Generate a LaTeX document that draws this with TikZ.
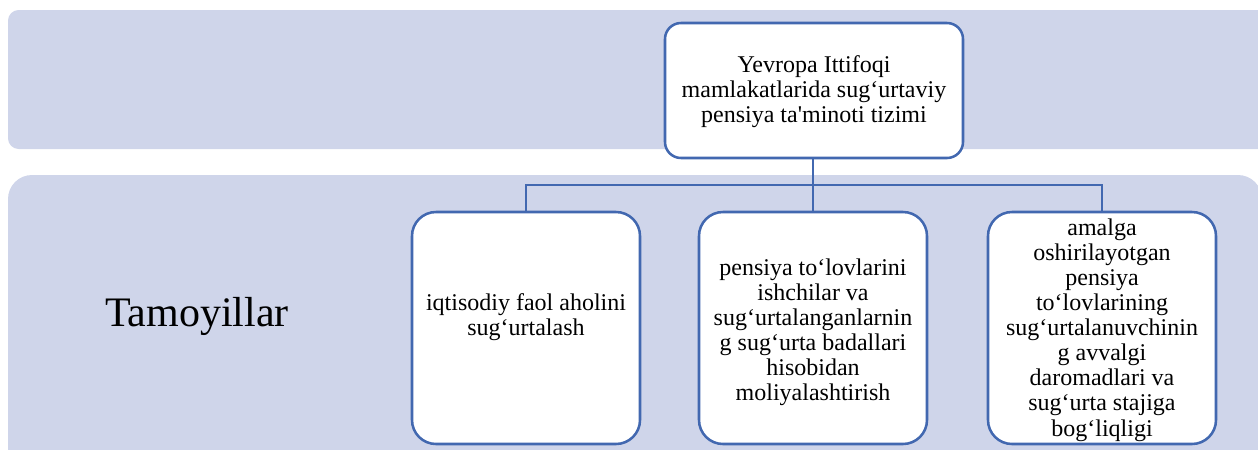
\documentclass[tikz,border=0pt]{standalone}
\usepackage{fontspec}
\setmainfont{Liberation Serif}[Ligatures=TeXOff]
\definecolor{bandfill}{HTML}{CFD5EA}
\definecolor{boxline}{HTML}{4268B0}
\tikzset{
  band/.style={fill=bandfill, draw=none},
  card/.style={draw=boxline, line width=1.9pt, fill=white, rounded corners=18pt},
  conn/.style={draw=boxline, line width=1.9pt},
  txt/.style={align=center, font=\fontsize{18}{18.8}\selectfont, inner sep=0pt},
}
\begin{document}
\begin{tikzpicture}[x=0.75pt,y=-0.75pt]
\useasboundingbox (0,0) rectangle (1258,450);
\clip (0,0) rectangle (1258,450);
% bands
\fill[band, rounded corners=8pt] (8,10) rectangle (1290,149);
\fill[band, rounded corners=18pt] (8,175) rectangle (1262,480);
\node[font=\fontsize{31.5}{34}\selectfont, inner sep=0pt] (tam) at (197,316) {Tamoyillar};
% top card
\draw[card, rounded corners=12pt] (665,23) rectangle (963,158);
\node[txt] (top) at (814,92) {Yevropa Ittifoqi\\mamlakatlarida sug‘urtaviy\\pensiya ta'minoti tizimi};
\coordinate (topb) at (813,158);
\coordinate (bus) at (813,185);
% child cards
\draw[card] (412,212) rectangle (640,444);
\draw[card] (699,212) rectangle (927,444);
\draw[card] (988,212) rectangle (1216,444);
\coordinate (c1) at (526,212);
\coordinate (c2) at (813,212);
\coordinate (c3) at (1102,212);
\node[txt] (t1) at (526,317) {iqtisodiy faol aholini\\sug‘urtalash};
\node[txt] (t2) at (813,332) {pensiya to‘lovlarini\\ishchilar va\\sug‘urtalanganlarnin\\g sug‘urta badallari\\hisobidan\\moliyalashtirish};
\node[txt] (t3) at (1102,330) {amalga\\oshirilayotgan\\pensiya\\to‘lovlarining\\sug‘urtalanuvchinin\\g avvalgi\\daromadlari va\\sug‘urta stajiga\\bog‘liqligi};
% connectors
\draw[conn] (topb) -- (bus);
\draw[conn] (c1) |- (bus) -| (c3);
\draw[conn] (bus) -- (c2);
\end{tikzpicture}
\end{document}
